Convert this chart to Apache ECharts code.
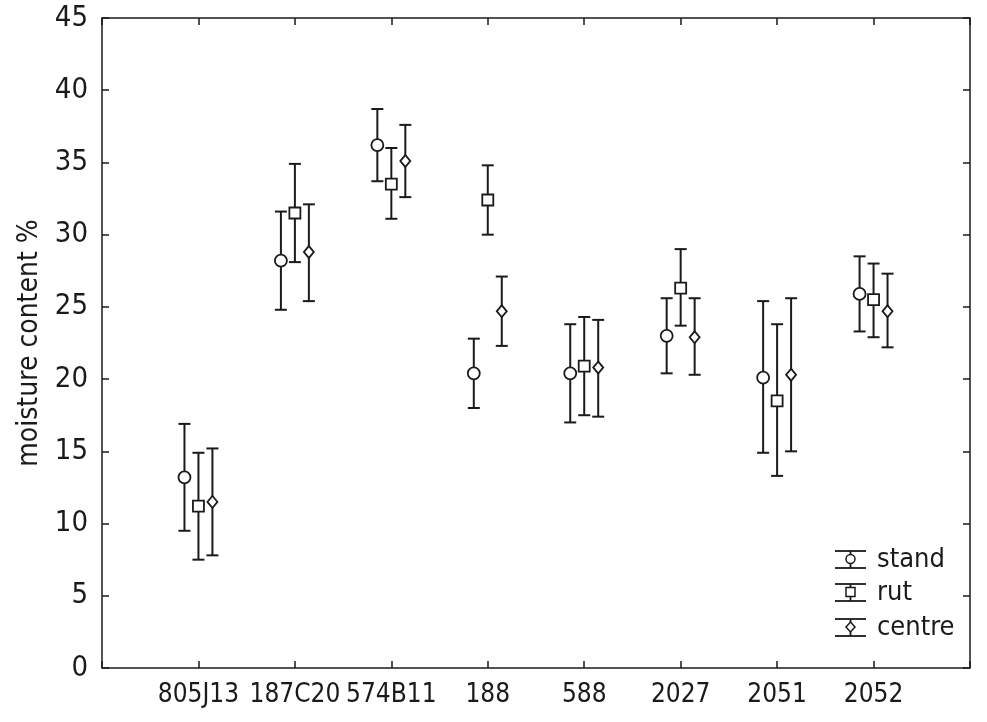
<!DOCTYPE html>
<html><head><meta charset="utf-8">
<script src="https://cdn.jsdelivr.net/npm/echarts@6/dist/echarts.min.js"></script>
<style>html,body{margin:0;padding:0;background:#fff}#c{width:987px;height:722px}</style>
</head><body><div id="c"></div>
<script>
const categories = ['805J13','187C20','574B11','188','588','2027','2051','2052'];
const seriesNames = ['stand','rut','centre'];
const standMean = [13.2, 28.2, 36.2, 20.4, 20.4, 23.0, 20.1, 25.9];
const standLow  = [9.5, 24.8, 33.7, 18.0, 17.0, 20.4, 14.9, 23.3];
const standHigh = [16.9, 31.6, 38.7, 22.8, 23.8, 25.6, 25.4, 28.5];
const rutMean = [11.2, 31.5, 33.5, 32.4, 20.9, 26.3, 18.5, 25.5];
const rutLow  = [7.5, 28.1, 31.1, 30.0, 17.5, 23.7, 13.3, 22.9];
const rutHigh = [14.9, 34.9, 36.0, 34.8, 24.3, 29.0, 23.8, 28.0];
const centreMean = [11.5, 28.8, 35.1, 24.7, 20.8, 22.9, 20.3, 24.7];
const centreLow  = [7.8, 25.4, 32.6, 22.3, 17.4, 20.3, 15.0, 22.2];
const centreHigh = [15.2, 32.1, 37.6, 27.1, 24.1, 25.6, 25.6, 27.3];
const yTicks = [0,5,10,15,20,25,30,35,40,45];

const FONT = "'Liberation Sans Narrow','DejaVu Sans Condensed','Arial Narrow',sans-serif";
const INK = '#1a1a1a';
const offsets = [-0.145, 0, 0.145];
const symbols = ['circle','rect','diamond'];
const symSizes = [[12,12],[11,11],[10,12]];
const groups = [
  {mean: standMean, low: standLow, high: standHigh},
  {mean: rutMean, low: rutLow, high: rutHigh},
  {mean: centreMean, low: centreLow, high: centreHigh}
];

const series = [];
groups.forEach((g, s) => {
  const errData = categories.map((c, i) => [i + 1 + offsets[s], g.low[i], g.high[i]]);
  series.push({
    type: 'custom', name: seriesNames[s] + ' err', xAxisIndex: 0, yAxisIndex: 0,
    data: errData, z: 2, silent: true,
    renderItem: function (params, api) {
      const x = api.value(0);
      const lo = api.coord([x, api.value(1)]);
      const hi = api.coord([x, api.value(2)]);
      const hw = 6;
      const st = {stroke: INK, lineWidth: 2, fill: null};
      return {type: 'group', children: [
        {type: 'line', shape: {x1: lo[0], y1: lo[1], x2: hi[0], y2: hi[1]}, style: st},
        {type: 'line', shape: {x1: lo[0]-hw, y1: lo[1], x2: lo[0]+hw, y2: lo[1]}, style: st},
        {type: 'line', shape: {x1: hi[0]-hw, y1: hi[1], x2: hi[0]+hw, y2: hi[1]}, style: st}
      ]};
    }
  });
  series.push({
    type: 'scatter', name: seriesNames[s], xAxisIndex: 0, yAxisIndex: 0, z: 5,
    symbol: symbols[s], symbolSize: symSizes[s],
    itemStyle: {color: '#fff', borderColor: INK, borderWidth: 1.8, opacity: 1},
    data: categories.map((c, i) => [i + 1 + offsets[s], g.mean[i]])
  });
});

const chart = echarts.init(document.getElementById('c'));
const tickCommon = {show: true, inside: true, length: 7, lineStyle: {color: INK, width: 1.5}};
const lineCommon = {show: true, onZero: false, lineStyle: {color: INK, width: 1.5}};

const legendGraphics = [];
const legRows = [559, 592, 627];
seriesNames.forEach((n, s) => {
  const cy = legRows[s];
  const st = {stroke: INK, lineWidth: 1.8, fill: null};
  legendGraphics.push({type: 'line', shape: {x1: 835, y1: cy - 8, x2: 866, y2: cy - 8}, style: st});
  legendGraphics.push({type: 'line', shape: {x1: 835, y1: cy + 9, x2: 866, y2: cy + 9}, style: st});
  legendGraphics.push({type: 'line', shape: {x1: 850.5, y1: cy - 8, x2: 850.5, y2: cy + 9}, style: st});
  if (s === 0) legendGraphics.push({type: 'circle', shape: {cx: 850.5, cy: cy, r: 4.5}, style: {stroke: INK, lineWidth: 1.5, fill: '#fff'}});
  else if (s === 1) legendGraphics.push({type: 'rect', shape: {x: 846, y: cy - 4.5, width: 9, height: 9}, style: {stroke: INK, lineWidth: 1.5, fill: '#fff'}});
  else legendGraphics.push({type: 'polygon', shape: {points: [[850.5, cy-5],[855, cy],[850.5, cy+5],[846, cy]]}, style: {stroke: INK, lineWidth: 1.5, fill: '#fff'}});
  legendGraphics.push({type: 'text', x: 877, y: cy + 1, style: {text: n, font: '27px ' + FONT, fill: INK, textVerticalAlign: 'middle', verticalAlign: 'middle'}});
});

chart.setOption({
  animation: false,
  backgroundColor: '#fff',
  grid: {left: 102, right: 17, top: 18, bottom: 54, containLabel: false},
  xAxis: [
    {type: 'value', position: 'bottom', min: 0, max: 9, interval: 1,
     axisLine: lineCommon, axisTick: tickCommon, splitLine: {show: false},
     axisLabel: {color: INK, fontFamily: FONT, fontSize: 26, margin: 14,
       formatter: v => (v >= 1 && v <= categories.length) ? categories[v - 1] : ''}},
    {type: 'value', position: 'top', min: 0, max: 9, interval: 1,
     axisLine: lineCommon, axisTick: tickCommon, splitLine: {show: false}, axisLabel: {show: false}}
  ],
  yAxis: [
    {type: 'value', position: 'left', min: yTicks[0], max: yTicks[yTicks.length-1], interval: 5,
     name: 'moisture content %', nameLocation: 'middle', nameGap: 58,
     nameTextStyle: {color: INK, fontFamily: FONT, fontSize: 28},
     axisLine: lineCommon, axisTick: tickCommon, splitLine: {show: false},
     axisLabel: {color: INK, fontFamily: FONT, fontSize: 29, margin: 14}},
    {type: 'value', position: 'right', min: yTicks[0], max: yTicks[yTicks.length-1], interval: 5,
     axisLine: lineCommon, axisTick: tickCommon, splitLine: {show: false}, axisLabel: {show: false}}
  ],
  graphic: legendGraphics,
  series: series
});
</script></body></html>
